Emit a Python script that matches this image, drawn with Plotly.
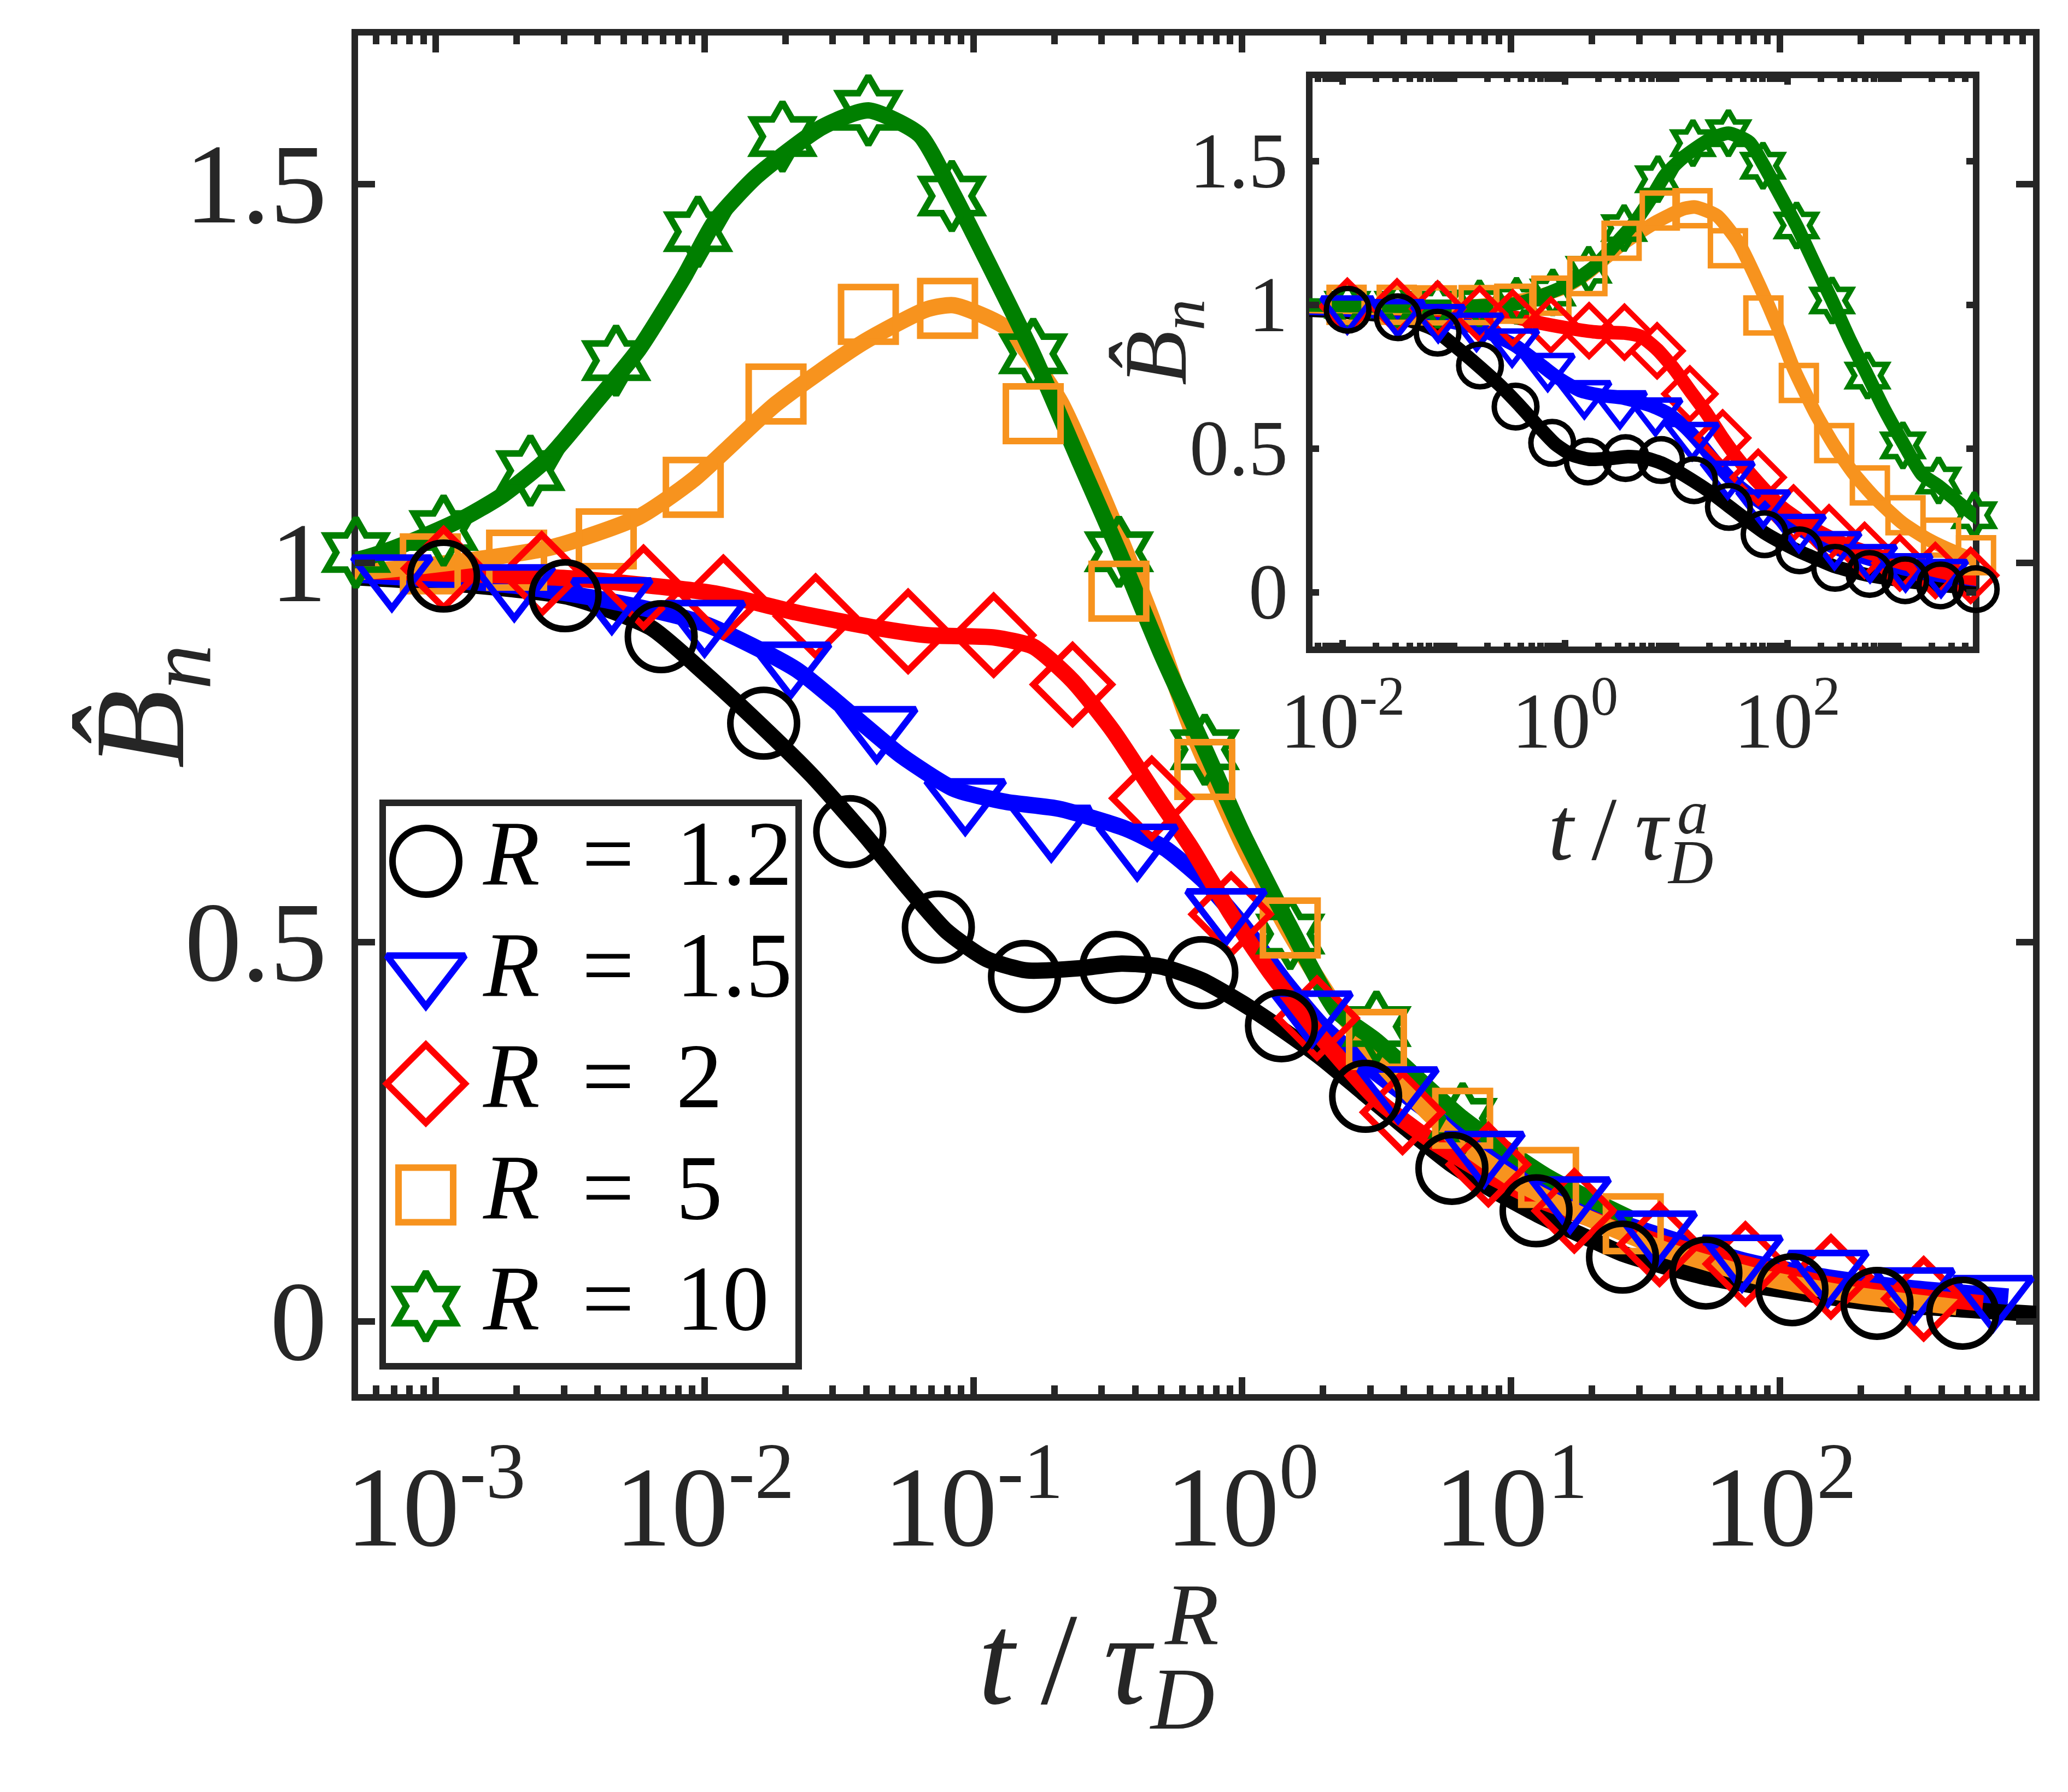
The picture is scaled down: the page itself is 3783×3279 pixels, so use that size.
import numpy as np
import plotly.graph_objects as go

W, H = 3783, 3279

# ---------------- data (main panel: t / tau_D^R) ----------------
R_labels = ["1.2", "1.5", "2", "5", "10"]
colors = ["#000000", "#0000ff", "#ff0000", "#f7931e", "#007f00"]
symbols = ["circle-open", "triangle-down-open", "diamond-open", "square-open", "hexagram-open"]

# ratio tau_D^R / tau_D^a used to put the same data on the inset axis (t / tau_D^a)
tau_ratio = [10.35, 16.0, 28.8, 175.0, 726.0]

# markers
t_12 = [1.07e-3, 3.03e-3, 6.9e-3, 0.0166, 0.0347, 0.0741, 0.155, 0.339, 0.708, 1.40,
        2.88, 6.03, 12.4, 26.0, 53.1, 111, 230, 479]
B_12 = [0.983, 0.957, 0.903, 0.789, 0.646, 0.52, 0.455, 0.467, 0.46, 0.39,
        0.297, 0.202, 0.146, 0.085, 0.064, 0.042, 0.024, 0.011]

t_15 = [6.87e-4, 1.96e-3, 4.52e-3, 0.0100, 0.0209, 0.0437, 0.0933, 0.195, 0.407, 0.871,
        1.82, 3.80, 7.94, 16.6, 34.7, 72.4, 151, 316, 621]
B_15 = [0.985, 0.972, 0.955, 0.925, 0.87, 0.785, 0.69, 0.655, 0.63, 0.545,
        0.41, 0.31, 0.225, 0.165, 0.12, 0.088, 0.068, 0.045, 0.035]

t_2 = [3.82e-4, 1.07e-3, 2.48e-3, 5.93e-3, 0.01175, 0.0259, 0.0572, 0.119, 0.234, 0.461,
       0.910, 1.90, 3.95, 8.24, 17.2, 35.7, 74.5, 155, 343]
B_2 = [0.995, 0.993, 0.986, 0.968, 0.955, 0.93, 0.91, 0.905, 0.84, 0.69,
       0.537, 0.40, 0.276, 0.207, 0.146, 0.102, 0.076, 0.059, 0.03]

t_5 = [6.19e-5, 1.75e-4, 4.02e-4, 9.55e-4, 2.0e-3, 4.31e-3, 9.08e-3, 0.01845, 0.0407, 0.0802,
       0.167, 0.348, 0.726, 1.51, 3.16, 6.61, 13.8, 28.5]
B_5 = [1.0, 1.0, 0.998, 0.999, 1.004, 1.032, 1.10, 1.223, 1.328, 1.336,
       1.197, 0.963, 0.728, 0.519, 0.372, 0.268, 0.19, 0.129]

t_10 = [1.52e-5, 4.29e-5, 9.84e-5, 2.34e-4, 5.05e-4, 1.07e-3, 2.25e-3, 4.69e-3, 9.46e-3, 0.0195,
        0.0407, 0.0832, 0.167, 0.348, 0.726, 1.51, 3.16, 6.61]
B_10 = [1.0, 1.0, 1.0, 1.005, 1.014, 1.043, 1.122, 1.267, 1.437, 1.5625,
        1.597, 1.484, 1.276, 1.015, 0.754, 0.511, 0.389, 0.268]

# fitted curves
tc_12 = [3.16e-4, 1e-3, 3.16e-3, 6.31e-3, 0.01, 0.0158, 0.0251, 0.0398, 0.0562, 0.0794,
         0.112, 0.158, 0.251, 0.355, 0.501, 0.708, 1.0, 1.41, 2.0, 2.82,
         3.98, 6.03, 8.71, 12.6, 19.1, 26.3, 52.5, 110, 229, 479, 912]
Bc_12 = [0.985, 0.975, 0.955, 0.915, 0.855, 0.79, 0.72, 0.64, 0.575, 0.515,
         0.478, 0.463, 0.466, 0.472, 0.468, 0.45, 0.42, 0.385, 0.346, 0.302,
         0.258, 0.207, 0.172, 0.141, 0.111, 0.089, 0.059, 0.040, 0.024, 0.016, 0.010]

tc_15 = [2.51e-4, 5.01e-4, 2.0e-3, 4.47e-3, 0.01, 0.0219, 0.0385, 0.054, 0.0851, 0.133,
         0.209, 0.368, 0.516, 0.726, 1.02, 1.43, 2.0, 3.15, 4.95, 7.78,
         12.2, 19.2, 37.8, 74.5, 147, 289, 708]
Bc_15 = [0.99, 0.985, 0.97, 0.95, 0.92, 0.86, 0.789, 0.746, 0.702, 0.685,
         0.676, 0.65, 0.624, 0.58, 0.52, 0.45, 0.389, 0.328, 0.276, 0.224,
         0.181, 0.146, 0.111, 0.08, 0.059, 0.045, 0.033]

tc_2 = [1.58e-4, 5.01e-4, 3.16e-3, 0.011, 0.0219, 0.043, 0.0676, 0.119, 0.167, 0.234,
        0.329, 0.461, 0.649, 0.91, 1.28, 2.0, 3.15, 4.95, 7.78, 12.2,
        19.2, 37.8, 74.5, 147, 324, 570]
Bc_2 = [0.995, 0.99, 0.98, 0.96, 0.935, 0.915, 0.905, 0.902, 0.89, 0.845,
        0.78, 0.702, 0.624, 0.537, 0.459, 0.372, 0.294, 0.241, 0.198, 0.163,
        0.137, 0.102, 0.076, 0.05, 0.033, 0.024]

tc_5 = [2.51e-5, 5.01e-4, 2.63e-3, 5.7e-3, 9.08e-3, 0.01845, 0.0385, 0.0676, 0.0847, 0.133,
        0.209, 0.329, 0.461, 0.649, 1.02, 1.51, 2.24, 3.53, 6.21, 10.9,
        19.2, 37.8, 83.4, 184, 455]
Bc_5 = [0.995, 0.988, 1.02, 1.061, 1.11, 1.21, 1.29, 1.335, 1.34, 1.31,
        1.215, 1.058, 0.928, 0.78, 0.624, 0.511, 0.415, 0.328, 0.241, 0.181,
        0.137, 0.094, 0.059, 0.036, 0.019]

tc_10 = [6.31e-6, 5.01e-4, 1.2e-3, 1.78e-3, 2.63e-3, 3.89e-3, 5.7e-3, 8.41e-3, 0.0109, 0.0156,
         0.0274, 0.0407, 0.063, 0.0832, 0.112, 0.167, 0.251, 0.348, 0.501, 0.726,
         1.0, 1.51, 2.24, 3.16, 6.61, 13.8, 28.2]
Bc_10 = [1.0, 1.004, 1.055, 1.09, 1.139, 1.21, 1.282, 1.378, 1.45, 1.51,
         1.575, 1.597, 1.565, 1.49, 1.40, 1.275, 1.13, 1.015, 0.88, 0.755,
         0.645, 0.52, 0.41, 0.37, 0.268, 0.19, 0.135]

marker_t = [t_12, t_15, t_2, t_5, t_10]
marker_B = [B_12, B_15, B_2, B_5, B_10]
curve_t = [tc_12, tc_15, tc_2, tc_5, tc_10]
curve_B = [Bc_12, Bc_15, Bc_2, Bc_5, Bc_10]

main_xticks = [1e-3, 1e-2, 1e-1, 1e0, 1e1, 1e2]
main_xticktext = ["10<sup>-3</sup>", "10<sup>-2</sup>", "10<sup>-1</sup>", "10<sup>0</sup>",
                  "10<sup>1</sup>", "10<sup>2</sup>"]
inset_xticks = [1e-2, 1e0, 1e2]
inset_xticktext = ["10<sup>-2</sup>", "10<sup>0</sup>", "10<sup>2</sup>"]
yticks = [0, 0.5, 1, 1.5]
yticktext = ["0", "0.5", "1", "1.5"]

# ---------------- styling / geometry (pixels) ----------------
FONT = "Liberation Serif"
AX = "#262626"
MAIN = (641, 3717, 51, 2549)     # x0, x1, ytop, ybottom (frame line centres)
INS = (2387, 3607, 129, 1181)
LEG = (692, 1453, 1461, 2492)
LEG_SYM_X, LEG_TXT_X, LEG_ROW0, LEG_DY = 771, 881, 1568, 203.5
MAIN_YLAB_RIGHT, INS_YLAB_RIGHT = 592, 2350

main_size = [122, 124, 110, 100, 95]
ins_size = [78, 82, 72, 64, 62]


def dom_x(a, b):
    return [a / W, b / W]


def dom_y(top, bot):
    return [1 - bot / H, 1 - top / H]


fig = go.Figure()

for panel, (xa, ya, lw, msz, mlw) in enumerate([("x", "y", 30, main_size, 12),
                                                 ("x2", "y2", 25, ins_size, 10)]):
    for i in range(5):
        tc = np.array(curve_t[i]) * (tau_ratio[i] if panel == 1 else 1.0)
        fig.add_trace(go.Scatter(x=tc, y=curve_B[i], mode="lines", xaxis=xa, yaxis=ya,
                                 line=dict(color=colors[i], width=lw, shape="spline", smoothing=0.6),
                                 showlegend=False, hoverinfo="skip"))
    for i in reversed(range(5)):
        tm = np.array(marker_t[i]) * (tau_ratio[i] if panel == 1 else 1.0)
        fig.add_trace(go.Scatter(x=tm, y=marker_B[i], mode="markers", xaxis=xa, yaxis=ya,
                                 cliponaxis=False,
                                 marker=dict(symbol=symbols[i], size=msz[i], color=colors[i],
                                             line=dict(width=mlw, color=colors[i])),
                                 showlegend=False, hoverinfo="skip"))

# legend symbols on a full-page pixel overlay axis
for i in range(5):
    fig.add_trace(go.Scatter(x=[LEG_SYM_X], y=[LEG_ROW0 + i * LEG_DY], mode="markers",
                             xaxis="x3", yaxis="y3", cliponaxis=False,
                             marker=dict(symbol=symbols[i], size=main_size[i], color=colors[i],
                                         line=dict(width=12, color=colors[i])),
                             showlegend=False, hoverinfo="skip"))


def minor_vals(lo_exp, hi_exp, lo, hi, majors):
    v = []
    for e in range(lo_exp, hi_exp + 1):
        for k in range(1, 10):
            val = k * 10.0 ** e
            if lo <= val <= hi and not any(abs(val - m) / m < 1e-9 for m in majors):
                v.append(val)
    return v


tickfont_main = dict(family=FONT, size=208, color=AX)
tickfont_ins = dict(family=FONT, size=144, color=AX)

common = dict(showline=False, mirror="ticks", ticks="inside", tickcolor=AX, tickwidth=12,
              showgrid=False, zeroline=False, automargin=False)

fig.update_layout(
    template="none",
    width=W, height=H, autosize=False,
    margin=dict(l=0, r=0, t=0, b=0, pad=0, autoexpand=False),
    paper_bgcolor="white", plot_bgcolor="rgba(0,0,0,0)",
    showlegend=False,
    xaxis=dict(domain=dom_x(MAIN[0], MAIN[1]), anchor="y", type="log",
               range=[np.log10(5e-4), np.log10(900)],
               tickvals=main_xticks, ticktext=main_xticktext, ticklen=37,
               tickfont=tickfont_main, ticklabelstandoff=62,
               minor=dict(tickvals=minor_vals(-4, 2, 5e-4, 900, main_xticks), ticks="inside",
                          ticklen=22, tickwidth=12, tickcolor=AX, showgrid=False),
               **common),
    yaxis=dict(domain=dom_y(MAIN[2], MAIN[3]), anchor="x", range=[-0.1, 1.7],
               tickvals=yticks, showticklabels=False, ticklen=37, **common),
    xaxis2=dict(domain=dom_x(INS[0], INS[1]), anchor="y2", type="log",
                range=[np.log10(5e-3), np.log10(5e3)],
                tickvals=inset_xticks, ticktext=inset_xticktext, ticklen=18,
                tickfont=tickfont_ins, ticklabelstandoff=34,
                minor=dict(tickvals=minor_vals(-3, 3, 5e-3, 5e3, inset_xticks), ticks="inside",
                           ticklen=13, tickwidth=12, tickcolor=AX, showgrid=False),
                **common),
    yaxis2=dict(domain=dom_y(INS[2], INS[3]), anchor="x2", range=[-0.2, 1.8],
                tickvals=yticks, showticklabels=False, ticklen=18, **common),
    xaxis3=dict(domain=[0, 1], anchor="y3", range=[0, W], visible=False, fixedrange=True,
                automargin=False),
    yaxis3=dict(domain=[0, 1], anchor="x3", range=[H, 0], visible=False, fixedrange=True,
                automargin=False),
)

shapes = []
for (x0, x1, yt, yb) in (MAIN, INS):
    shapes.append(dict(type="rect", xref="paper", yref="paper", x0=x0 / W, x1=x1 / W,
                       y0=1 - yb / H, y1=1 - yt / H, line=dict(color=AX, width=12),
                       fillcolor="rgba(0,0,0,0)", layer="below"))
shapes.append(dict(type="rect", xref="paper", yref="paper", x0=LEG[0] / W, x1=LEG[1] / W,
                   y0=1 - LEG[3] / H, y1=1 - LEG[2] / H, line=dict(color=AX, width=12),
                   fillcolor="white", layer="below"))
fig.update_layout(shapes=shapes)

ann = []


def A(text, x, y, size, xanchor="center", yanchor="middle", angle=0, color=AX):
    ann.append(dict(text=text, x=x / W, y=1 - y / H, xref="paper", yref="paper",
                    showarrow=False, xanchor=xanchor, yanchor=yanchor, textangle=angle,
                    font=dict(family=FONT, size=size, color=color)))


# y tick labels, right-aligned and placed through the y axes
for yv, yt in zip(yticks, yticktext):
    ann.append(dict(text=yt, x=MAIN_YLAB_RIGHT / W, xref="paper", y=yv, yref="y",
                    xanchor="right", yanchor="middle", showarrow=False,
                    font=dict(family=FONT, size=208, color=AX)))
    ann.append(dict(text=yt, x=INS_YLAB_RIGHT / W, xref="paper", y=yv, yref="y2",
                    xanchor="right", yanchor="middle", showarrow=False,
                    font=dict(family=FONT, size=144, color=AX)))

# main axis titles
A("<i>t</i>\u2009/\u2009<i>τ</i>", 2106, 3028, 240, xanchor="right")
A("<i>R</i>", 2120, 2945, 162, xanchor="left")
A("<i>D</i>", 2093, 3100, 162, xanchor="left")
A("<i>B̂</i><sub><i>n</i></sub>", 265, 1285, 236, angle=-90)
# inset axis titles
A("<i>t</i>\u2009/\u2009<i>τ</i>", 3050, 1508, 166, xanchor="right")
A("<i>a</i>", 3058, 1478, 114, xanchor="left")
A("<i>D</i>", 3040, 1570, 114, xanchor="left")
A("<i>B̂</i><sub><i>n</i></sub>", 2118, 618, 164, angle=-90)
# legend labels
for i in range(5):
    A("<i>R</i>\u2009 = \u2009" + R_labels[i], LEG_TXT_X - 8, LEG_ROW0 - 14 + i * LEG_DY, 170,
      xanchor="left", color="#000000")

fig.update_layout(annotations=ann)

fig.write_html("out.html", config={"responsive": False})
